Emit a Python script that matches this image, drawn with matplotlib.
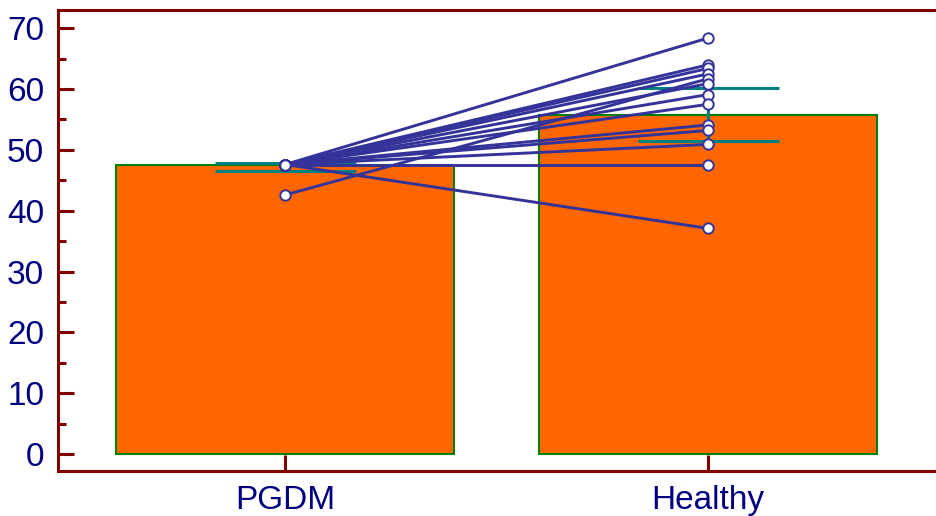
import matplotlib
matplotlib.use("Agg")
import matplotlib.pyplot as plt
from matplotlib.ticker import MultipleLocator

plt.rcParams['font.family'] = ['Liberation Sans', 'DejaVu Sans']

# data
groups = ["PGDM", "Healthy"]
bar_heights = [47.5, 55.7]
err_low = [46.5, 51.5]
err_high = [47.9, 60.1]

# paired values, one entry per subject
pgdm_vals = [47.6, 47.6, 47.6, 47.6, 42.6, 47.6, 47.6, 47.6, 47.6, 47.6, 47.6, 47.6, 47.6]
healthy_vals = [68.4, 64.0, 63.4, 62.5, 61.7, 60.9, 59.1, 57.5, 54.1, 53.2, 50.9, 47.6, 37.1]

y_ticks = [0, 10, 20, 30, 40, 50, 60, 70]

fig = plt.figure(figsize=(9.37, 5.16), dpi=100)
ax = fig.add_axes([0.0619, 0.0872, 0.9381, 0.8934])

xpos = list(range(len(groups)))
ax.bar(xpos, bar_heights, width=0.8, color="#FF6600", edgecolor="#008000",
       linewidth=1.5, zorder=1)

# error bars: wide caps plus a connecting vertical segment
for x, lo, hi in zip(xpos, err_low, err_high):
    ax.hlines([lo, hi], x - 0.167, x + 0.167, color="#008080", linewidth=2.2, zorder=2)
    ax.vlines(x, lo, hi, color="#008080", linewidth=2.2, zorder=2)

for a, b in zip(pgdm_vals, healthy_vals):
    ax.plot([0, 1], [a, b], color="#333399", linewidth=2.1, zorder=3,
            marker="o", markersize=7.5, markerfacecolor="white",
            markeredgecolor="#333399", markeredgewidth=1.4)

ax.set_xlim(-0.537, 1.541)
ax.set_ylim(-2.79, 73.0)

ax.set_xticks(xpos)
ax.set_xticklabels(groups)
ax.set_yticks(y_ticks)
ax.yaxis.set_minor_locator(MultipleLocator(5))

spine_col = "#800000"
for side in ["left", "bottom", "top"]:
    ax.spines[side].set_color(spine_col)
    ax.spines[side].set_linewidth(2.2)
ax.spines["right"].set_visible(False)

ax.tick_params(axis="both", which="major", direction="in", length=11.5,
               width=2.2, color=spine_col, labelsize=24, labelcolor="#000080")
ax.tick_params(axis="y", which="major", pad=10)
ax.tick_params(axis="x", which="major", pad=10)
ax.tick_params(axis="y", which="minor", direction="in", length=6, width=2.2,
               color=spine_col)
ax.tick_params(top=False, right=False)

fig.savefig("out.png", dpi=100)
